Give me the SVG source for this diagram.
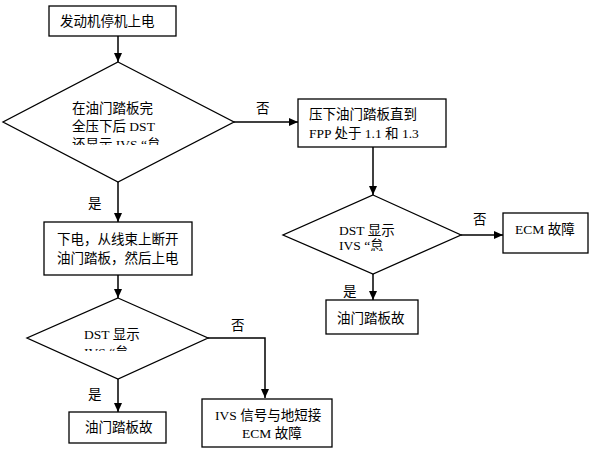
<svg xmlns="http://www.w3.org/2000/svg" width="590" height="449" viewBox="0 0 590 449">
<defs>
<style>
text{font-family:"Liberation Serif","Noto Sans CJK SC",serif;font-size:13.5px;fill:#000}
.box{fill:#fff;stroke:#000;stroke-width:1.3}
.line{fill:none;stroke:#000;stroke-width:1.5}
</style>
<marker id="ah" markerWidth="10" markerHeight="10" refX="9" refY="5" orient="auto" markerUnits="userSpaceOnUse">
<path d="M0,1 L9,5 L0,9 Z" fill="#000"/>
</marker>
<clipPath id="c1"><rect x="0" y="0" width="590" height="145"/></clipPath>
<clipPath id="c2"><rect x="0" y="0" width="590" height="251"/></clipPath>
<clipPath id="c3"><rect x="0" y="0" width="590" height="351"/></clipPath>
</defs>
<rect width="590" height="449" fill="#fff"/>
<g id="connectors">
<path class="line" d="M118,36 V62" marker-end="url(#ah)"/>
<path class="line" d="M234,122 H298" marker-end="url(#ah)"/>
<path class="line" d="M118,182 V222" marker-end="url(#ah)"/>
<path class="line" d="M373,147 V195" marker-end="url(#ah)"/>
<path class="line" d="M461,235 H503" marker-end="url(#ah)"/>
<path class="line" d="M373,274 V300" marker-end="url(#ah)"/>
<path class="line" d="M118,275 V298" marker-end="url(#ah)"/>
<path class="line" d="M208,338 H265 V398" marker-end="url(#ah)"/>
<path class="line" d="M118,379 V412" marker-end="url(#ah)"/>
<text x="256" y="113">否</text>
<text x="88" y="208">是</text>
<text x="473" y="224">否</text>
<text x="343" y="296">是</text>
<text x="231" y="330">否</text>
<text x="88" y="399">是</text>
</g>
<g id="start">
<rect class="box" x="49" y="6" width="127" height="30"/>
<text x="60" y="26">发动机停机上电</text>
</g>
<g id="decision1">
<path class="box" d="M118,62 L234,122 L118,182 L3,122 Z"/>
<g clip-path="url(#c1)">
<text x="72" y="113">在油门踏板完</text>
<text x="72" y="131">全压下后 DST</text>
<text x="72" y="149">还显示 IVS “怠</text>
</g>
</g>
<g id="press">
<rect class="box" x="298" y="99" width="148" height="48"/>
<text x="309" y="119">压下油门踏板直到</text>
<text x="309" y="138">FPP 处于 1.1 和 1.3</text>
</g>
<g id="decision2">
<path class="box" d="M373,195 L461,235 L373,274 L283,235 Z"/>
<g clip-path="url(#c2)">
<text x="339" y="235">DST 显示</text>
<text x="339" y="250">IVS “怠</text>
</g>
</g>
<g id="ecm1">
<rect class="box" x="503" y="213" width="85" height="40"/>
<text x="515" y="234">ECM 故障</text>
</g>
<g id="pedal1">
<rect class="box" x="326" y="300" width="92" height="34"/>
<text x="337" y="323">油门踏板故</text>
</g>
<g id="powerdown">
<rect class="box" x="44" y="222" width="148" height="53"/>
<text x="57" y="244">下电，从线束上断开</text>
<text x="57" y="263">油门踏板，然后上电</text>
</g>
<g id="decision3">
<path class="box" d="M118,298 L208,338 L118,379 L27,338 Z"/>
<g clip-path="url(#c3)">
<text x="84" y="339">DST 显示</text>
<text x="84" y="357">IVS “怠</text>
</g>
</g>
<g id="ivs">
<rect class="box" x="202" y="399" width="130" height="48"/>
<text x="215" y="420">IVS 信号与地短接</text>
<text x="242" y="438">ECM 故障</text>
</g>
<g id="pedal2">
<rect class="box" x="69" y="412" width="97" height="31"/>
<text x="85" y="432">油门踏板故</text>
</g>
</svg>
